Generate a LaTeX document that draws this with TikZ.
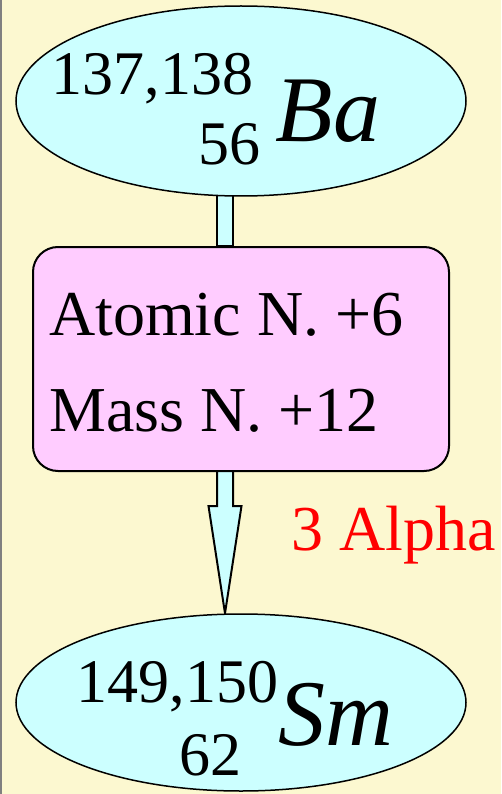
\documentclass[tikz,border=0pt]{standalone}
\usepackage{fontspec}
\setmainfont{Liberation Serif}
\usetikzlibrary{shapes,calc,backgrounds}

\definecolor{paper}{RGB}{252,248,208}
\definecolor{nuccyan}{RGB}{204,255,255}
\definecolor{boxpink}{RGB}{255,204,255}

\begin{document}
\begin{tikzpicture}[
    x=1pt, y=-1pt,
    nucleus/.style={draw=black, fill=nuccyan, line width=1.5pt, ellipse, minimum width=450pt, inner sep=0pt},
    changebox/.style={draw=black, fill=boxpink, line width=2pt, rounded corners=25pt, minimum width=416pt, minimum height=224pt, inner sep=0pt},
    numtext/.style={anchor=base west, inner sep=0pt, font=\fontsize{62}{62}\selectfont},
    symtext/.style={anchor=base west, inner sep=0pt, font=\fontsize{94}{94}\selectfont\itshape},
    boxtext/.style={anchor=base west, inner sep=0pt, font=\fontsize{64}{64}\selectfont},
    stem/.style={draw=black, fill=nuccyan, line width=2pt, line join=miter}
]
    \useasboundingbox (0,0) rectangle (501,794);
    \begin{scope}[on background layer]
        \fill[paper] (0,0) rectangle (501,794);
        \draw[gray, line width=2pt] (1,0) -- (1,794);
    \end{scope}

    % parent, change and daughter
    \node[nucleus, minimum height=190pt] (ba) at (241,101) {};
    \node[changebox] (change) at (241,359) {};
    \node[nucleus, minimum height=177pt] (sm) at (241,702.5) {};

    \node[numtext] (ba-mass) at (51.4,95) {137,138};
    \node[numtext] (ba-z) at (198,165) {56};
    \node[symtext] (ba-sym) at (275.5,141.7) {Ba};

    \node[boxtext] (dz) at (49,335) {Atomic N. +6};
    \node[boxtext] (da) at (49,431) {Mass N. +12};

    \node[numtext] (sm-mass) at (76.4,702.7) {149,150};
    \node[numtext] (sm-z) at (179.6,775) {62};
    \node[symtext] (sm-sym) at (278,745) {Sm};

    \node[boxtext, text=red] (decay) at (291,550) {3 Alpha};

    % block arrows
    \coordinate (stemx) at (225,0);
    \coordinate (neck) at (225,506);
    \begin{scope}[on background layer]
        \draw[stem] ($(ba.south -| stemx)+(-8,-5)$) rectangle ($(change.north -| stemx)+(8,0)$);
        \draw[stem] ($(change.south -| stemx)+(-8,-5)$) -- ($(neck)+(-8,0)$) -- ($(neck)+(-16.5,0)$)
            -- (sm.north -| stemx) -- ($(neck)+(16.5,0)$) -- ($(neck)+(8,0)$) -- ($(change.south -| stemx)+(8,-5)$);
    \end{scope}
\end{tikzpicture}
\end{document}
